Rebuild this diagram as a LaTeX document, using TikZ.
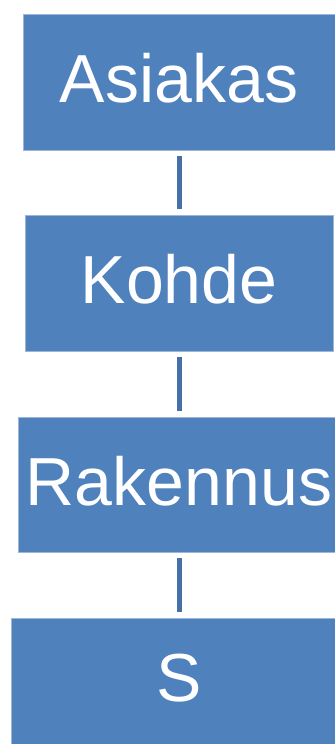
\documentclass[tikz,border=0pt]{standalone}
\usepackage{fontspec}
\setmainfont{Liberation Sans}
\definecolor{boxblue}{HTML}{4F81BD}
\definecolor{boxedge}{HTML}{9DB6D8}
\definecolor{linkblue}{HTML}{4571A8}
\begin{document}
\begin{tikzpicture}[x=1bp,y=1bp,
  level/.style={draw=boxedge, line width=0.6bp, fill=boxblue, text=white,
    inner sep=0pt, font=\fontsize{68bp}{80bp}\selectfont,
    text height=50bp, text depth=8bp},
  link/.style={draw=linkblue, line width=5bp, shorten <=6bp, shorten >=6bp}]
  \useasboundingbox (0,0) rectangle (334,744);
  % hierarchy levels, top to bottom
  \node[level, minimum width=312bp, minimum height=136bp] (asiakas)  at (179,662)   {Asiakas};
  \node[level, minimum width=308bp, minimum height=136bp] (kohde)    at (179,461)   {Kohde};
  \node[level, minimum width=322bp, minimum height=135bp] (rakennus) at (179,259.5) {Rakennus};
  \node[level, minimum width=336bp, minimum height=126bp] (s)        at (179,63)    {S};
  % links between levels
  \draw[link] (asiakas.south) -- (kohde.north);
  \draw[link] (kohde.south) -- (rakennus.north);
  \draw[link] (rakennus.south) -- (s.north);
\end{tikzpicture}
\end{document}
